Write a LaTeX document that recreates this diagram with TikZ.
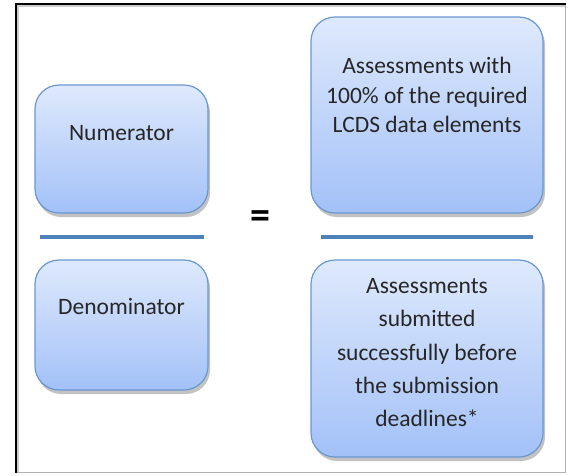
\documentclass[tikz,border=0pt]{standalone}
\usepackage{fontspec}
\setmainfont{Carlito}
\usepackage{xcolor}
\usetikzlibrary{positioning,shadows}
\definecolor{boxtop}{HTML}{DEE9FC}
\definecolor{boxbot}{HTML}{A3C1F8}
\definecolor{boxline}{HTML}{6A97D0}
\definecolor{barblue}{HTML}{4F81BD}

\begin{document}
\begin{tikzpicture}[x=1pt,y=-1pt,
    termbox/.style={draw=boxline, line width=1.2pt, rounded corners=24pt, top color=boxtop, bottom color=boxbot,
        drop shadow={shadow xshift=2pt, shadow yshift=-4pt, opacity=0.4, fill=black!60}},
    termtext/.style={align=center, font=\fontsize{23.5}{29.5}\selectfont, text=black!85, inner sep=0pt},
    fracbar/.style={barblue, line width=4pt}]
                \useasboundingbox (0,0) rectangle (569,475);
                % frame
                \draw[gray!60, line width=1pt] (15.5,3.5) rectangle (565.5,472.5);
                \draw[black!20, line width=1.5pt] (18,472) -- (18,6) -- (565,6);
                \draw[black, line width=2pt] (16,473) -- (16,4) -- (566,4);
                % left fraction
                \node[termbox, minimum width=173pt, minimum height=128pt] (num) at (121.5,149) {};
                \node[termtext, below=41pt of num.north] (numtext) {Numerator};
                \node[termbox, minimum width=173pt, minimum height=130pt] (den) at (121.5,325) {};
                \node[termtext, below=39pt of den.north] (dentext) {Denominator};
                \draw[fracbar] (40,237) -- (204,237);
                \node[font=\fontsize{40}{40}\selectfont\bfseries] (eq) at (260,220) {=};
                % right fraction
                \node[termbox, minimum width=232pt, minimum height=196pt] (top) at (427,115) {};
                \node[termtext, below=41pt of top.north] (toptext) {Assessments with\\100\% of the required\\LCDS data elements};
                \node[termbox, minimum width=232pt, minimum height=197pt] (bot) at (427,358.5) {};
                \node[termtext, below=19pt of bot.north, font=\fontsize{23.5}{33.3}\selectfont] (bottext) {Assessments\\submitted\\successfully before\\the submission\\deadlines*};
                \draw[fracbar] (321,237) -- (533,237);
            \end{tikzpicture}
\end{document}
